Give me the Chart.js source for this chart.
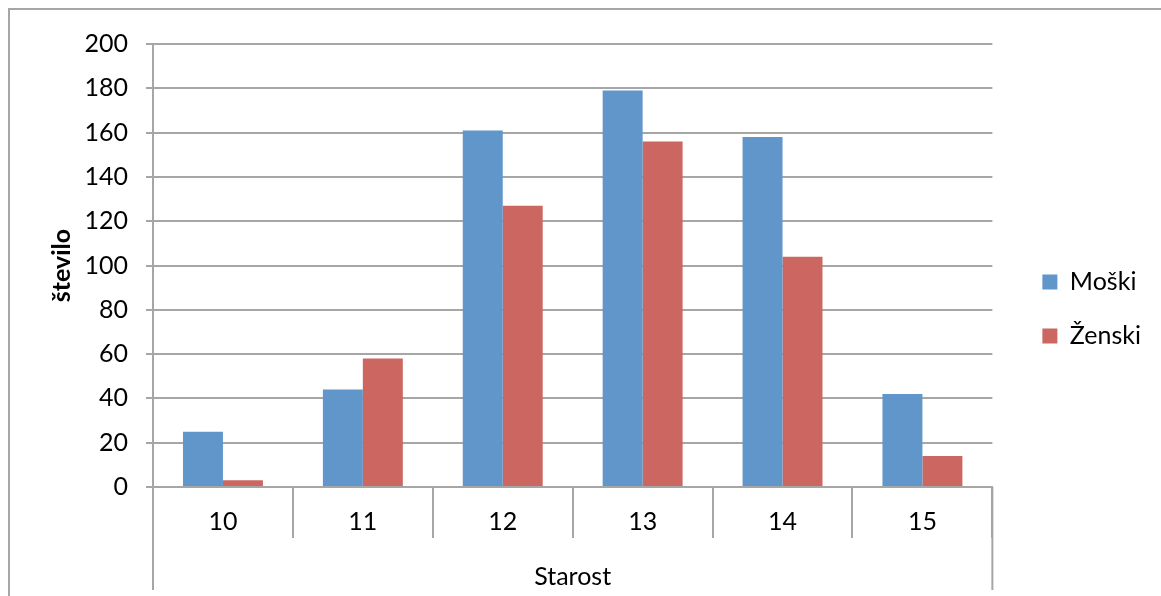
<!DOCTYPE html>
<html>
<head>
<meta charset="utf-8">
<script src="https://cdn.jsdelivr.net/npm/chart.js@4.4.0/dist/chart.umd.min.js"></script>
<style>
html, body { margin: 0; padding: 0; background: #fff; }
#wrap { position: relative; width: 1161px; height: 596px; }
#frame { position: absolute; left: 8px; top: 8px; right: 0; bottom: 0; border-left: 2px solid #a6a6a6; border-top: 2px solid #a6a6a6; }
canvas { position: absolute; left: 0; top: 0; }
</style>
</head>
<body>
<div id="wrap"><div id="frame"></div><canvas id="chart" width="1161" height="596"></canvas></div>
<script>
// data
const ages = ['10', '11', '12', '13', '14', '15'];
const moski = [25, 44, 161, 179, 158, 42];
const zenski = [3, 58, 127, 156, 104, 14];
const yMin = 0, yMax = 200, yStep = 20;

const gridColor = '#a6a6a6';
const fontFamily = 'Lato, Carlito, Calibri, sans-serif';

// vertical lines at both ends of the category axis, down to the group label row
const outerLines = {
    id: 'outerLines',
    afterDraw(chart) {
        const {ctx, chartArea} = chart;
        ctx.save();
        ctx.strokeStyle = gridColor;
        ctx.lineWidth = 2;
        [chartArea.left, chartArea.right].forEach(x => {
            ctx.beginPath();
            ctx.moveTo(x, chartArea.bottom);
            ctx.lineTo(x, 590);
            ctx.stroke();
        });
        ctx.restore();
    }
};

new Chart(document.getElementById('chart'), {
    type: 'bar',
    data: {
        labels: ages,
        datasets: [
            {label: 'Moški', data: moski, backgroundColor: '#6196CA'},
            {label: 'Ženski', data: zenski, backgroundColor: '#CC6660'}
        ]
    },
    options: {
        responsive: false,
        animation: false,
        datasets: {bar: {barPercentage: 1, categoryPercentage: 0.5714}},
        layout: {padding: {top: 44, left: 0, right: 10, bottom: 22}},
        plugins: {
            tooltip: {enabled: false},
            legend: {
                position: 'right',
                labels: {
                    boxWidth: 15, boxHeight: 15, padding: 29, color: '#000',
                    font: {family: fontFamily, size: 25}
                }
            }
        },
        scales: {
            x: {
                grid: {offset: true, drawOnChartArea: false, tickLength: 51, color: gridColor, lineWidth: 2},
                border: {display: true, color: gridColor, width: 2},
                ticks: {padding: -31, color: '#000', font: {family: fontFamily, size: 25}},
                title: {display: true, text: 'Starost', color: '#000',
                        font: {family: fontFamily, size: 25}, padding: {top: 0, bottom: -17.6}},
                afterFit(s) { s.height = 87; }
            },
            y: {
                min: yMin, max: yMax,
                grid: {color: gridColor, lineWidth: 2, tickLength: 7},
                border: {display: true, color: gridColor, width: 2},
                ticks: {stepSize: yStep, padding: 18, color: '#000', font: {family: fontFamily, size: 25}},
                title: {display: true, text: 'število', color: '#000',
                        font: {family: fontFamily, size: 25, weight: 'bold'}, padding: {top: 47, bottom: 0}},
                afterFit(s) { s.width = 153; }
            },
            // empty spacer between plot and legend
            y2: {
                position: 'right',
                grid: {display: false},
                border: {display: false},
                ticks: {display: false},
                afterFit(s) { s.width = 21; }
            }
        }
    },
    plugins: [outerLines]
});
</script>
</body>
</html>
